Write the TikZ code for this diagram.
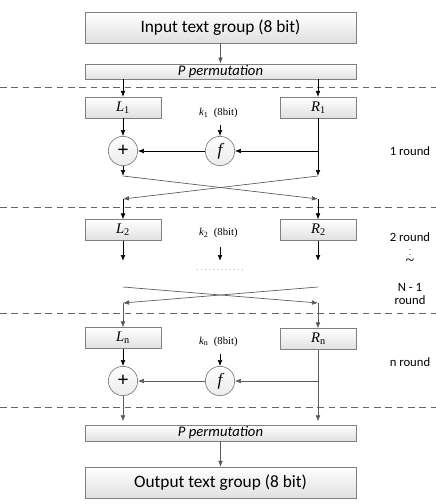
\documentclass[tikz,border=0pt]{standalone}
\usepackage{fontspec}
\setmainfont{Liberation Serif}
\newfontfamily\labelfont{Carlito}
\usetikzlibrary{positioning, arrows.meta, calc}

\begin{document}
\begin{tikzpicture}[
    x=0.75pt, y=-0.75pt,
    >={Latex[length=4.5pt,width=3.5pt]},
    widebox/.style={rectangle, draw=black!50, top color=white, bottom color=black!12, minimum width=203pt, inner sep=0pt, font=\labelfont},
    halfbox/.style={rectangle, draw=black!50, top color=white, bottom color=black!12, minimum width=57pt, minimum height=15.5pt, inner sep=0pt, font=\fontsize{11}{12}\selectfont},
    opnode/.style={circle, draw=black!60, top color=white, bottom color=black!8, minimum size=22pt, inner sep=0pt},
    keylabel/.style={font=\fontsize{8}{9}\selectfont},
    roundlabel/.style={font=\labelfont\fontsize{9.5}{11}\selectfont, align=center},
    sepline/.style={draw=black!60, dash pattern=on 5pt off 3.5pt, line width=0.5pt},
    flow/.style={->, draw=black, line width=0.5pt},
    cross/.style={->, draw=black!65, line width=0.5pt},
]
\useasboundingbox (0,0) rectangle (436,504);

% input and first permutation
\node[widebox, minimum height=23pt, font=\labelfont\fontsize{13}{15}\selectfont](in) at (220.5,27.5){Input text group (8 bit)};
\node[widebox, minimum height=11.5pt, font=\labelfont\itshape\fontsize{11}{12}\selectfont](pp1) at (220.5,71.5){P permutation};
\draw[cross] (in) -- (pp1);

% separators
\foreach \y in {87,207,313,407}
    \draw[sepline] (0,\y) -- (436,\y);

% round 1
\node[halfbox](L1) at (123,107.5){\textit{L}\textsubscript{1}};
\node[halfbox](R1) at (318.5,107.5){\textit{R}\textsubscript{1}};
\node[keylabel](k1) at (221,113){\textit{k}\textsubscript{1}\enspace(8bit)\enspace};
\node[opnode, font=\bfseries\fontsize{15}{15}\selectfont](x1) at (123,151){+};
\node[opnode, font=\itshape\fontsize{13}{13}\selectfont](f1) at (220,151){f};
\coordinate(c1l) at (123,176);
\coordinate(c1r) at (318,176);
\draw[flow] (L1 |- pp1.south) -- (L1.north);
\draw[flow] (pp1.south -| c1r) -- (c1r |- R1.north);
\draw[flow] (L1) -- (x1);
\draw[flow] (k1.south) ++(-1,2) -- (f1.north);
\draw[flow] (f1) -- (x1);
\draw[flow] (c1r |- f1) -- (f1.east);
\draw[flow] (c1r |- R1.south) -- (c1r);
\draw[flow] (x1.south) -- (c1l);
\node[roundlabel](r1) at (410,151){1 round};

% swap 1
\coordinate(c2l) at (123,199);
\coordinate(c2r) at (318,199);
\draw[cross] (c1l) -- (c2r);
\draw[cross] (c1r) -- (c2l);

% round 2
\node[halfbox](L2) at (123,230){\textit{L}\textsubscript{2}};
\node[halfbox](R2) at (318.5,230){\textit{R}\textsubscript{2}};
\node[keylabel](k2) at (221,233){\textit{k}\textsubscript{2}\enspace(8bit)\enspace};
\draw[flow] (c2l) -- (L2.north);
\draw[flow] (c2r) -- (c2r |- R2.north);
\coordinate(c3l) at (123,261);
\coordinate(c3m) at (220,261);
\coordinate(c3r) at (318,261);
\draw[flow] (L2.south) -- (c3l);
\draw[flow] (k2.south) ++(-1,4) -- (c3m);
\draw[flow] (c3r |- R2.south) -- (c3r);
\node[roundlabel](r2) at (410,237){2 round};
\node[roundlabel, font=\fontsize{6}{6}\selectfont](bar) at (410,251){$\vdots$};
\node[roundlabel, font=\fontsize{12}{12}\selectfont](tilde) at (410,262){\textasciitilde};
\node[roundlabel](rn1) at (410,294){N - 1\\[-1pt]round};
\node[font=\fontsize{6}{6}\selectfont, text=black!50](dots) at (220,270){.\hspace{1.6pt}.\hspace{1.6pt}.\hspace{1.6pt}.\hspace{1.6pt}.\hspace{1.6pt}.\hspace{1.6pt}.\hspace{1.6pt}.\hspace{1.6pt}.\hspace{1.6pt}.\hspace{1.6pt}.\hspace{1.6pt}.};

% swap n-1
\coordinate(c4l) at (123,287);
\coordinate(c4r) at (318,287);
\coordinate(c5l) at (123,303);
\coordinate(c5r) at (318,303);
\draw[cross] (c4l) -- (c5r);
\draw[cross] (c4r) -- (c5l);

% round n
\node[halfbox](Ln) at (123,338){\textit{L}\textsubscript{n}};
\node[halfbox](Rn) at (318.5,339){\textit{R}\textsubscript{n}};
\node[keylabel](kn) at (221,342){\textit{k}\textsubscript{n}\enspace(8bit)\enspace};
\node[opnode, font=\bfseries\fontsize{15}{15}\selectfont](xn) at (123,381){+};
\node[opnode, font=\itshape\fontsize{13}{13}\selectfont](fn) at (220,381){f};
\draw[cross] (c5l) -- (Ln.north);
\draw[cross] (c5r) -- (c5r |- Rn.north);
\draw[flow] (Ln) -- (xn);
\draw[flow] (kn.south) ++(-1,2) -- (fn.north);
\draw[cross] (fn) -- (xn);
\draw[cross] (c5r |- fn) -- (fn.east);
\node[roundlabel](rn) at (410,362){n round};

% output
\node[widebox, minimum height=12pt, font=\labelfont\itshape\fontsize{11}{12}\selectfont](pp2) at (220.5,433){P permutation};
\node[widebox, minimum height=23pt, font=\labelfont\fontsize{13}{15}\selectfont](out) at (220.5,482.5){Output text group (8 bit)};
\draw[cross, shorten >=2.5pt] (xn.south) -- (xn |- pp2.north);
\draw[cross, shorten >=2.5pt] (c5r |- Rn.south) -- (c5r |- pp2.north);
\draw[cross] (pp2) -- (out);
\end{tikzpicture}
\end{document}
